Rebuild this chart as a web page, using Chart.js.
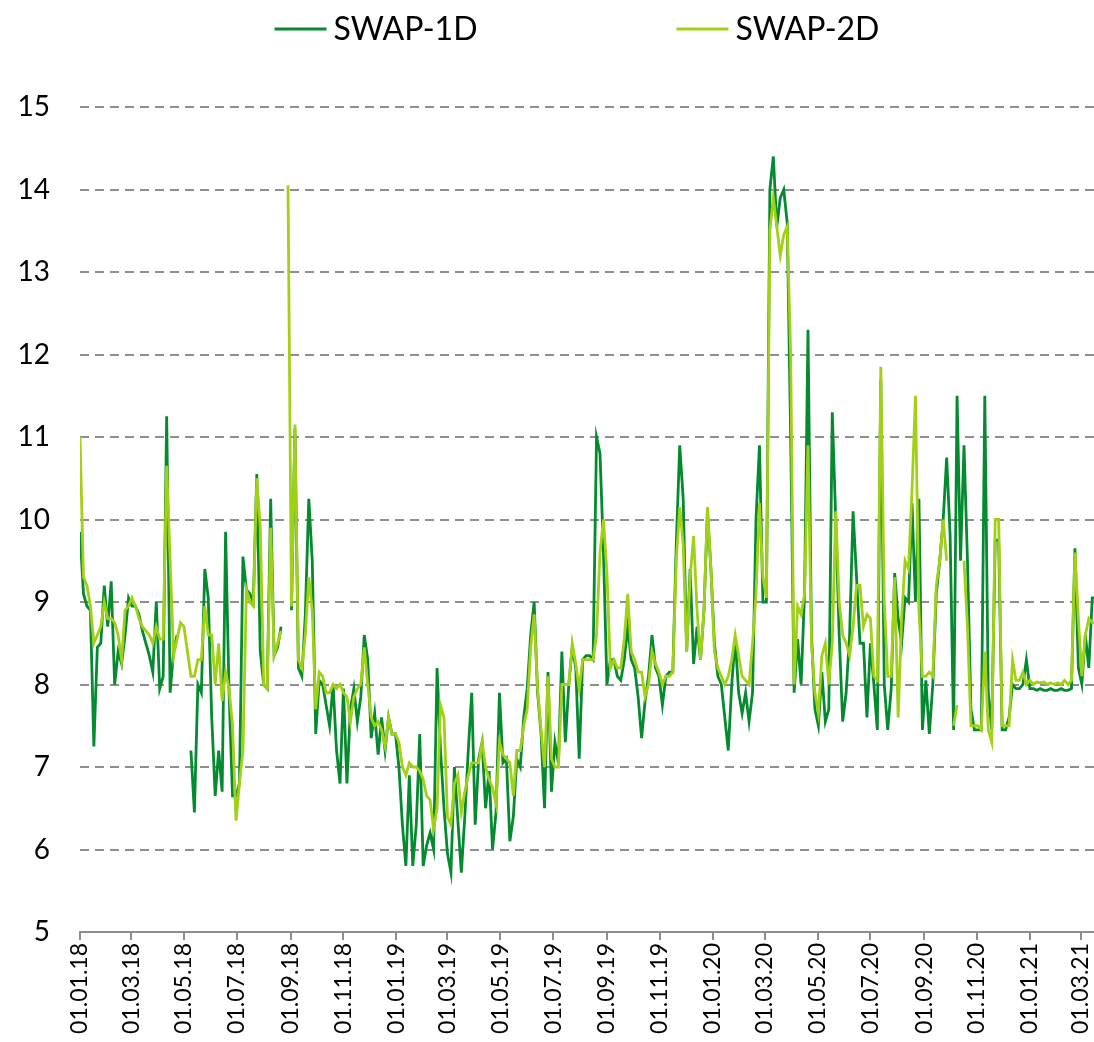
<!DOCTYPE html>
<html>
<head>
<meta charset="utf-8">
<title>SWAP-1D / SWAP-2D</title>
<script src="https://cdn.jsdelivr.net/npm/chart.js@4/dist/chart.umd.min.js"></script>
<style>
  html, body { margin: 0; padding: 0; background: #ffffff; }
  #wrap { width: 1094px; height: 1042px; position: relative; }
</style>
</head>
<body>
<div id="wrap"><canvas id="chart"></canvas></div>
<script>
// Series are sampled every SAMPLE_STEP_DAYS calendar days starting at SERIES_START.
const SERIES_START = '01.01.18';
const AXIS_END = '16.03.21';
const SAMPLE_STEP_DAYS = 4;

const seriesNames = ['SWAP-1D', 'SWAP-2D'];

const tickLabels = [
  '01.01.18', '01.03.18', '01.05.18', '01.07.18', '01.09.18', '01.11.18',
  '01.01.19', '01.03.19', '01.05.19', '01.07.19', '01.09.19', '01.11.19',
  '01.01.20', '01.03.20', '01.05.20', '01.07.20', '01.09.20', '01.11.20',
  '01.01.21', '01.03.21'
];

const swap1d = [
  9.85, 9.1, 8.95, 8.9, 7.25, 8.45, 8.5, 9.2, 8.7, 9.25,
  8.0, 8.4, 8.25, 8.6, 9.05, 8.95, 8.95, 8.85, 8.65, 8.5,
  8.35, 8.15, 9.0, 7.95, 8.1, 11.25, 7.9, 8.4, 8.6, null,
  null, null, 7.2, 6.45, 8.0, 7.9, 9.4, 9.05, 7.6, 6.65,
  7.2, 6.7, 9.85, 7.9, 6.65, 6.65, 6.8, 9.55, 9.15, 9.1,
  9.0, 10.55, 8.4, 8.0, 7.95, 10.25, 8.35, 8.45, 8.7, null,
  null, 8.9, 11.1, 8.2, 8.1, 8.85, 10.25, 9.5, 7.4, 8.05,
  8.0, 7.75, 7.5, 8.0, 7.2, 6.8, 7.95, 6.8, 7.7, 7.95,
  7.55, 7.85, 8.6, 8.3, 7.35, 7.65, 7.15, 7.6, 7.2, 7.6,
  7.4, 7.4, 7.0, 6.3, 5.8, 6.9, 5.8, 6.3, 7.4, 5.8,
  6.05, 6.2, 6.0, 8.2, 7.2, 6.5, 5.95, 5.72, 7.0, 6.35,
  5.72, 6.4, 7.2, 7.9, 6.3, 7.1, 7.3, 6.5, 6.95, 6.0,
  6.45, 7.9, 7.05, 7.1, 6.1, 6.4, 7.1, 7.0, 7.6, 7.95,
  8.6, 9.0, 7.9, 7.4, 6.5, 8.15, 6.7, 7.3, 7.05, 8.4,
  7.3, 8.0, 8.45, 8.2, 7.1, 8.3, 8.35, 8.35, 8.3, 11.0,
  10.8, 9.6, 8.0, 8.3, 8.3, 8.1, 8.05, 8.3, 8.7, 8.3,
  8.2, 7.85, 7.35, 7.8, 8.1, 8.6, 8.2, 8.1, 7.75, 8.1,
  8.15, 8.15, 9.7, 10.9, 10.25, 8.4, 9.4, 8.25, 8.7, 8.3,
  8.9, 10.1, 9.4, 8.5, 8.1, 8.0, 7.6, 7.2, 8.0, 8.55,
  7.9, 7.65, 7.9, 7.55, 7.9, 10.0, 10.9, 9.0, 9.0, 14.0,
  14.4, 13.55, 13.9, 14.0, 13.6, 11.0, 7.9, 8.55, 8.0, 9.1,
  12.3, 8.6, 7.7, 7.5, 8.15, 7.55, 7.7, 11.3, 10.0, 8.6,
  7.55, 7.9, 8.6, 10.1, 9.3, 8.5, 8.5, 7.6, 8.5, 8.0,
  7.45, 11.7, 8.0, 7.45, 7.95, 9.35, 8.8, 8.5, 9.05, 9.0,
  10.2, 9.0, 10.25, 7.45, 8.05, 7.4, 8.0, 9.1, 9.5, 10.0,
  10.75, 9.8, 7.45, 11.5, 9.5, 10.9, 9.5, 7.7, 7.45, 7.45,
  7.45, 11.5, 7.9, 7.45, 9.75, 9.75, 7.45, 7.45, 7.6, 8.0,
  7.95, 7.95, 8.0, 8.3, 7.95, 7.95, 7.93, 7.95, 7.93, 7.93,
  7.95, 7.93, 7.93, 7.95, 7.93, 7.93, 7.95, 9.65, 8.2, 8.0,
  8.6, 8.2, 9.05, 9.05
];

const swap2d = [
  11.0, 9.3, 9.2, 8.95, 8.5, 8.6, 8.7, 9.0, 8.8, 8.8,
  8.75, 8.6, 8.3, 8.9, 8.95, 9.05, 8.95, 8.8, 8.7, 8.65,
  8.6, 8.5, 8.7, 8.55, 8.55, 10.65, 9.5, 8.35, 8.55, 8.75,
  8.7, 8.4, 8.1, 8.1, 8.3, 8.3, 8.95, 8.6, 8.6, 8.0,
  8.5, 7.8, 8.15, 7.95, 7.5, 6.35, 6.8, 7.2, 9.15, 9.0,
  8.95, 10.5, 9.9, 8.0, 7.95, 9.9, 8.35, 8.5, 8.65, null,
  14.05, 8.95, 11.15, 8.3, 8.2, 8.6, 9.3, 8.9, 7.7, 8.15,
  8.1, 7.9, 7.9, 8.0, 7.95, 8.0, 7.9, 7.85, 7.55, 7.85,
  7.95, 8.0, 8.45, 8.0, 7.6, 7.5, 7.55, 7.45, 7.25, 7.6,
  7.4, 7.4, 7.3, 7.0, 6.9, 7.05, 7.0, 7.0, 6.95, 6.85,
  6.65, 6.6, 6.25, 6.5, 7.75, 7.6, 6.4, 6.3, 6.8, 6.9,
  6.45, 6.7, 6.9, 7.05, 7.05, 7.05, 7.3, 7.0, 6.85, 6.75,
  6.55, 7.3, 7.15, 7.1, 7.05, 6.65, 7.2, 7.2, 7.5, 7.7,
  8.45, 8.85, 7.95, 7.45, 7.0, 8.1, 7.1, 7.0, 7.0, 8.0,
  8.0, 8.0, 8.5, 8.25, 7.95, 8.3, 8.3, 8.3, 8.3, 8.6,
  9.6, 10.0, 9.35, 8.2, 8.3, 8.2, 8.2, 8.55, 9.1, 8.4,
  8.3, 8.15, 8.15, 7.85, 8.0, 8.4, 8.25, 8.15, 8.0, 8.1,
  8.1, 8.15, 9.5, 10.15, 9.7, 8.4, 9.3, 9.8, 8.9, 8.3,
  8.9, 10.15, 9.4, 8.4, 8.2, 8.1, 8.0, 8.1, 8.3, 8.6,
  8.35, 8.1, 8.05, 8.0, 8.5, 9.1, 10.2, 9.3, 9.05, 13.5,
  13.9, 13.55, 13.2, 13.45, 13.55, 12.0, 8.0, 8.95, 8.85, 9.1,
  10.9, 8.5, 7.9, 7.65, 8.35, 8.5, 8.0, 8.5, 10.1, 9.0,
  8.6, 8.5, 8.35, 8.7, 9.2, 9.2, 8.7, 8.85, 8.8, 8.1,
  8.05, 11.85, 9.0, 8.1, 8.1, 9.3, 7.6, 8.8, 9.5, 9.4,
  10.35, 11.5, 8.9, 8.1, 8.1, 8.15, 8.1, 9.2, 9.5, 10.0,
  9.5, null, 7.5, 7.75, null, 9.5, 8.7, 7.5, 7.5, 7.5,
  7.45, 8.4, 7.45, 7.3, 10.0, 10.0, 7.5, 7.5, 7.5, 8.3,
  8.05, 8.05, 8.15, 8.0, 8.05, 8.0, 8.03, 8.02, 8.03, 8.0,
  8.02, 8.0, 8.02, 8.0, 8.05, 8.0, 8.05, 9.6, 8.8, 8.1,
  8.6, 8.8, 8.75, 8.75
];

const Y_MIN = 5;
const Y_MAX = 15;
const Y_STEP = 1;

// "dd.mm.yy" -> calendar days since SERIES_START
function dayIndex(label) {
  const [d, m, y] = label.split('.').map(Number);
  const [d0, m0, y0] = SERIES_START.split('.').map(Number);
  return Math.round((Date.UTC(2000 + y, m - 1, d) - Date.UTC(2000 + y0, m0 - 1, d0)) / 86400000);
}

function toPoints(values) {
  return values.map((v, i) => ({ x: i * SAMPLE_STEP_DAYS, y: v }));
}

const tickDays = tickLabels.map(dayIndex);
const labelByDay = new Map(tickDays.map((d, i) => [d, tickLabels[i]]));

const COLORS = ['#048a2f', '#a2d016'];
const GRID = '#8e8e8e';
const FONT = 'Lato, "Open Sans", sans-serif';

// Legend drawn as a short line sample followed by the series name
const lineLegend = {
  id: 'lineLegend',
  afterDraw(chart) {
    const ctx = chart.ctx;
    const sample = 52, gap = 7, itemGap = 199, centerX = 577, y = 29;
    ctx.save();
    ctx.font = '32px ' + FONT;
    ctx.textBaseline = 'middle';
    const widths = seriesNames.map(n => ctx.measureText(n).width);
    const total = widths.reduce((a, w) => a + sample + gap + w, 0) + itemGap * (seriesNames.length - 1);
    let x = centerX - total / 2;
    seriesNames.forEach((name, i) => {
      ctx.strokeStyle = COLORS[i];
      ctx.lineWidth = 3;
      ctx.beginPath();
      ctx.moveTo(x, y);
      ctx.lineTo(x + sample, y);
      ctx.stroke();
      x += sample + gap;
      ctx.fillStyle = '#000000';
      ctx.textAlign = 'left';
      ctx.fillText(name, x, y + 1);
      x += widths[i] + itemGap;
    });
    ctx.restore();
  }
};

new Chart(document.getElementById('chart'), {
  type: 'line',
  data: {
    datasets: [
      {
        label: seriesNames[0],
        data: toPoints(swap1d),
        borderColor: COLORS[0],
        borderWidth: 2.8,
        pointRadius: 0,
        tension: 0,
        spanGaps: false,
        order: 1
      },
      {
        label: seriesNames[1],
        data: toPoints(swap2d),
        borderColor: COLORS[1],
        borderWidth: 2.8,
        pointRadius: 0,
        tension: 0,
        spanGaps: false,
        order: 0
      }
    ]
  },
  options: {
    responsive: true,
    maintainAspectRatio: false,
    animation: false,
    devicePixelRatio: 1,
    layout: { padding: { top: 107, right: 0, bottom: 0, left: 0 } },
    plugins: {
      legend: { display: false },
      tooltip: { enabled: false }
    },
    scales: {
      x: {
        type: 'linear',
        min: 0,
        max: dayIndex(AXIS_END),
        afterBuildTicks(scale) {
          scale.ticks = tickDays.map(v => ({ value: v }));
        },
        afterFit(scale) {
          scale.height = 110;
          // plot runs to the right edge; rotated labels need no extra side room
          scale.paddingLeft = 0;
          scale.paddingRight = 0;
        },
        ticks: {
          autoSkip: false,
          minRotation: 90,
          maxRotation: 90,
          padding: 3,
          color: '#000000',
          font: { family: FONT, size: 23, lineHeight: 1 },
          callback: (v) => labelByDay.get(v) ?? ''
        },
        grid: {
          drawOnChartArea: false,
          drawTicks: true,
          tickLength: 8,
          color: GRID,
          lineWidth: 2
        },
        border: { display: true, color: GRID, width: 2 }
      },
      y: {
        min: Y_MIN,
        max: Y_MAX,
        afterFit(scale) { scale.width = 80; },
        ticks: {
          stepSize: Y_STEP,
          padding: 30,
          color: '#000000',
          font: { family: FONT, size: 28, lineHeight: 1 }
        },
        grid: {
          drawTicks: false,
          color: (c) => (c.tick && c.tick.value === Y_MIN) ? 'rgba(0,0,0,0)' : GRID,
          lineWidth: 2
        },
        // dashed horizontal grid lines
        border: { display: false, dash: [9, 6] }
      }
    }
  },
  plugins: [lineLegend]
});
</script>
</body>
</html>
